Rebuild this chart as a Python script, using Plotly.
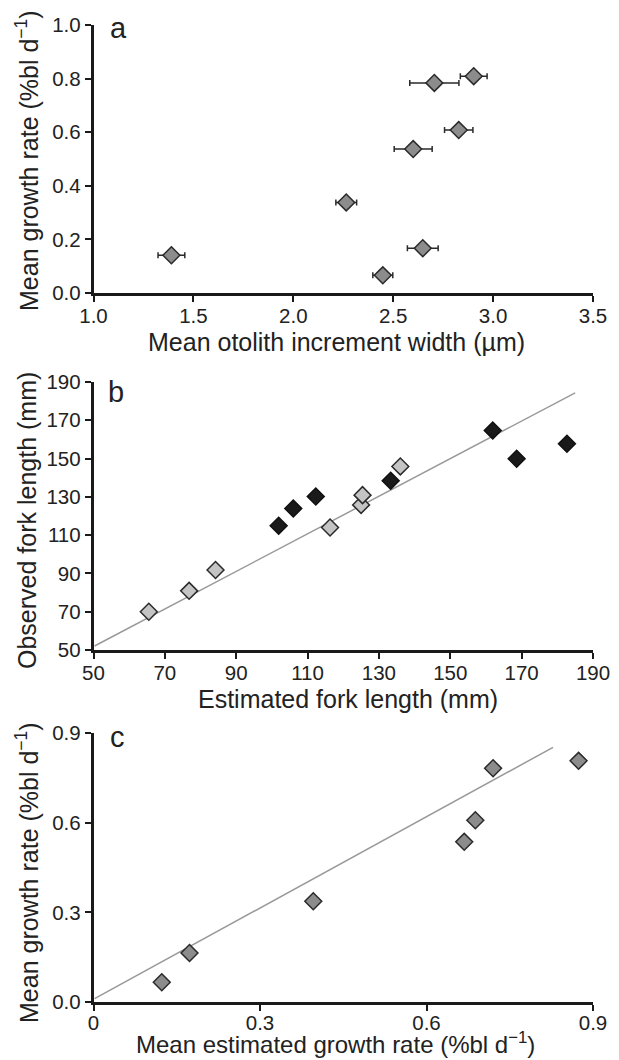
import plotly.graph_objects as go

# Panel a
a_x = [1.39, 2.265, 2.448, 2.60, 2.648, 2.706, 2.828, 2.903]
a_y = [0.141, 0.338, 0.066, 0.537, 0.167, 0.784, 0.608, 0.809]
a_err = [0.067, 0.052, 0.05, 0.095, 0.077, 0.123, 0.071, 0.067]

# Panel b
b_light_x = [65.5, 76.8, 84.2, 116.3, 125.0, 125.4, 136.0]
b_light_y = [70.0, 80.9, 91.8, 114.0, 125.8, 130.9, 145.9]
b_dark_x = [101.9, 106.0, 112.3, 133.3, 161.9, 168.6, 182.7]
b_dark_y = [114.9, 123.9, 130.2, 138.4, 164.7, 149.9, 157.7]
b_line_x = [50.3, 185.0]
b_line_y = [52.1, 184.3]

# Panel c
c_x = [0.123, 0.173, 0.396, 0.668, 0.688, 0.720, 0.874]
c_y = [0.066, 0.164, 0.337, 0.536, 0.608, 0.782, 0.807]
c_line_x = [0.002, 0.828]
c_line_y = [0.011, 0.852]

W, H = 619, 1060
FONT = "Liberation Sans, Arial, sans-serif"
TXT = "#222222"
xdom = [93.5 / W, 593 / W]
def ydom(top, bot):
    return [1 - bot / H, 1 - top / H]

fig = go.Figure()
outline = dict(color="#2a2a2a", width=1.5)
MS = 13

fig.add_trace(go.Scatter(
    x=a_x, y=a_y, mode="markers", xaxis="x", yaxis="y",
    error_x=dict(type="data", array=a_err, color="#2a2a2a", thickness=1.5, width=3),
    marker=dict(symbol="diamond", size=MS, color="#8c8c8c", line=outline),
    showlegend=False, cliponaxis=False))

fig.add_trace(go.Scatter(
    x=b_line_x, y=b_line_y, mode="lines", xaxis="x2", yaxis="y2",
    line=dict(color="#999999", width=1.5), showlegend=False))
fig.add_trace(go.Scatter(
    x=b_light_x, y=b_light_y, mode="markers", xaxis="x2", yaxis="y2",
    marker=dict(symbol="diamond", size=MS, color="#c4c4c4", line=outline),
    showlegend=False, cliponaxis=False))
fig.add_trace(go.Scatter(
    x=b_dark_x, y=b_dark_y, mode="markers", xaxis="x2", yaxis="y2",
    marker=dict(symbol="diamond", size=MS, color="#1a1a1a", line=dict(color="#111111", width=1.5)),
    showlegend=False, cliponaxis=False))

fig.add_trace(go.Scatter(
    x=c_line_x, y=c_line_y, mode="lines", xaxis="x3", yaxis="y3",
    line=dict(color="#999999", width=1.5), showlegend=False))
fig.add_trace(go.Scatter(
    x=c_x, y=c_y, mode="markers", xaxis="x3", yaxis="y3",
    marker=dict(symbol="diamond", size=MS, color="#8c8c8c", line=outline),
    showlegend=False, cliponaxis=False))

TICK = 20.5
def common():
    return dict(showgrid=False, zeroline=False, automargin=False,
                showline=True, linecolor="#1a1a1a", linewidth=2.5, ticks="outside",
                ticklen=6, tickwidth=1.5, tickcolor="#1a1a1a",
                tickfont=dict(family=FONT, size=TICK, color=TXT))

def xax(anchor, rng, tickvals, ticktext, standoff=-3):
    d = common()
    d.update(domain=xdom, anchor=anchor, range=rng, ticklabelstandoff=standoff,
             tickmode="array", tickvals=tickvals, ticktext=ticktext)
    return d

def yax(anchor, dom, rng, tickvals, ticktext):
    d = common()
    d.update(domain=dom, anchor=anchor, range=rng,
             tickmode="array", tickvals=tickvals, ticktext=ticktext)
    return d

a_xt = [1.0, 1.5, 2.0, 2.5, 3.0, 3.5]
a_yt = [0.0, 0.2, 0.4, 0.6, 0.8, 1.0]
b_t = [50, 70, 90, 110, 130, 150, 170, 190]
c_xt = [0, 0.3, 0.6, 0.9]
c_yt = [0.0, 0.3, 0.6, 0.9]

fig.update_layout(
    width=W, height=H, margin=dict(l=0, r=0, t=0, b=0),
    paper_bgcolor="white", plot_bgcolor="white",
    xaxis=xax("y", [1.0, 3.5], a_xt, [f"{v:.1f}" for v in a_xt]),
    yaxis=yax("x", ydom(25, 293), [0, 1.0], a_yt, [f"{v:.1f}" for v in a_yt]),
    xaxis2=xax("y2", [50, 190], b_t, [str(v) for v in b_t]),
    yaxis2=yax("x2", ydom(382, 650), [50, 190], b_t, [str(v) for v in b_t]),
    xaxis3=xax("y3", [0, 0.9], c_xt, ["0", "0.3", "0.6", "0.9"], standoff=-5),
    yaxis3=yax("x3", ydom(733, 1002), [0, 0.9], c_yt, [f"{v:.1f}" for v in c_yt]),
)

def ann(text, xpx, ypx, size, angle=0, anchor="center"):
    fig.add_annotation(text=text, xref="paper", yref="paper", x=xpx / W, y=1 - ypx / H,
                       xanchor=anchor, yanchor="middle", showarrow=False, textangle=angle,
                       font=dict(family=FONT, size=size, color=TXT))

TS = 25
# axis titles
ann("Mean otolith increment width (µm)", 336, 342, TS)
ann("Mean growth rate (%bl d<sup>−1</sup>)", 27, 161, TS, angle=-90)
ann("Estimated fork length (mm)", 348, 699, TS)
ann("Observed fork length (mm)", 27, 521, TS, angle=-90)
ann("Mean estimated growth rate (%bl d<sup>−1</sup>)", 335, 1043, 24)
ann("Mean growth rate (%bl d<sup>−1</sup>)", 27, 873, TS, angle=-90)

# panel labels
for txt, xpx, ypx in [("a", 108, 28), ("b", 106, 392), ("c", 108, 737)]:
    ann(txt, xpx, ypx, 29, anchor="left")

fig.write_html("out.html")
